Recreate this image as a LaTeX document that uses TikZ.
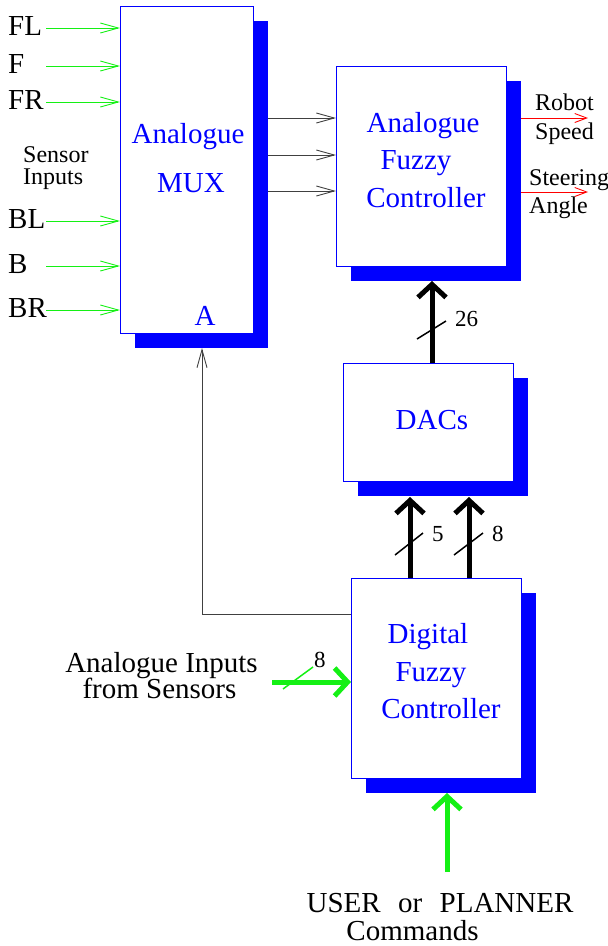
\documentclass[tikz,border=0pt]{standalone}
\usepackage{fontspec}
\setmainfont{Liberation Serif}
\usetikzlibrary{arrows.meta,shadows}
\definecolor{lgreen}{RGB}{20,240,20}
\newcommand{\bigtxt}{\fontsize{29}{33}\selectfont}
\newcommand{\midtxt}{\fontsize{24}{28}\selectfont}
\newcommand{\numtxt}{\fontsize{23}{27}\selectfont}

\begin{document}
\begin{tikzpicture}[x=1pt, y=-1pt]
        \tikzstyle{blk} = [draw=blue, fill=white, line width=1pt, inner sep=0pt, outer sep=0pt, drop shadow={shadow xshift=15pt, shadow yshift=-15pt, fill=blue, opacity=1}]
        \tikzstyle{btxt} = [blue, font=\bigtxt, anchor=base, inner sep=0pt]
        \tikzstyle{ktxt} = [font=\bigtxt, inner sep=0pt]
        \tikzstyle{stxt} = [font=\midtxt, anchor=base west, inner sep=0pt]
        \tikzstyle{ntxt} = [font=\numtxt, anchor=base west, inner sep=0pt]
        \tikzstyle{wire} = [-{Straight Barb[length=18pt, width=10pt]}, line width=0.9pt]
        \tikzstyle{bus} = [-{Straight Barb[length=13pt, width=28pt]}, line width=5pt]
        \tikzstyle{slash} = [line width=1.5pt]
        \useasboundingbox (0,0) rectangle (608,946);

        % blocks
        \node[blk, minimum width=133pt, minimum height=327pt] (mux) at (186.5,169.5) {};
        \node[blk, minimum width=170pt, minimum height=200pt] (afc) at (421,166) {};
        \node[blk, minimum width=170pt, minimum height=118pt] (dac) at (428,422) {};
        \node[blk, minimum width=170pt, minimum height=200pt] (dfc) at (436,678) {};
        \coordinate (muxsh) at ([shift={(15pt,-15pt)}]mux.south east);
        \coordinate (afcsh) at ([shift={(15pt,-15pt)}]afc.south east);
        \coordinate (dacsh) at ([shift={(15pt,-15pt)}]dac.south east);
        \coordinate (dfcsh) at ([shift={(15pt,-15pt)}]dfc.south east);

        \node[btxt] (muxa) at (188,143) {Analogue};
        \node[btxt] (muxb) at (191,192) {MUX};
        \node[btxt] (muxsel) at (205,325) {A};
        \node[btxt] (afca) at (423,132) {Analogue};
        \node[btxt] (afcb) at (416,169) {Fuzzy};
        \node[btxt] (afcc) at (426,207) {Controller};
        \node[btxt] (dact) at (432,429) {DACs};
        \node[btxt] (dfca) at (428,643) {Digital};
        \node[btxt] (dfcb) at (431,681) {Fuzzy};
        \node[btxt] (dfcc) at (441,718) {Controller};

        % sensor inputs
        \foreach \n/\y in {FL/28, F/66, FR/102, BL/221, B/266, BR/310} {
          \node[ktxt, anchor=base west] (in\n) at (8,\y+7.5) {\n};
          \coordinate (s\n) at (46,\y);
          \draw[wire, lgreen] (s\n) -- (s\n -| mux.west);
        }
        \node[stxt] (sens) at (23,162) {Sensor};
        \node[stxt] (inps) at (23,184) {Inputs};

        % mux to analogue controller
        \foreach \y in {118,155,191}
          \draw[wire, black!75] (muxsh |- 0,\y) -- (afc.west |- 0,\y);

        % outputs
        \coordinate (spd) at (588,118);
        \coordinate (ang) at (588,192);
        \draw[-{Straight Barb[length=12pt, width=9pt]}, red, line width=0.9pt] (spd -| afcsh) -- (spd);
        \draw[-{Straight Barb[length=12pt, width=9pt]}, red, line width=0.9pt] (ang -| afcsh) -- (ang);
        \node[stxt] (rob) at (535,110) {Robot};
        \node[stxt] (spdt) at (535,139) {Speed};
        \node[stxt] (ster) at (529,185) {Steering};
        \node[stxt] (angt) at (529,213) {Angle};

        % buses
        \coordinate (b26) at (432,281);
        \coordinate (b5) at (410,497);
        \coordinate (b8) at (469,497);
        \draw[bus] (b26 |- dac.north) -- (b26);
        \draw[bus] (b5 |- dfc.north) -- (b5);
        \draw[bus] (b8 |- dfc.north) -- (b8);
        \draw[slash] (b26) ++(-15,58) -- ++(29,-18);
        \draw[slash] (b5) ++(-15,58) -- ++(28,-22);
        \draw[slash] (b8) ++(-15,58) -- ++(29,-22);
        \node[ntxt] (n26) at (455,326) {26};
        \node[ntxt] (n5) at (432,541) {5};
        \node[ntxt] (n8) at (492,541) {8};

        % feedback to mux
        \coordinate (fb) at (202,614);
        \draw[wire, black!75] (fb -| dfc.west) -- (fb) -- (fb |- muxsh);

        % digital controller inputs
        \coordinate (ain) at (272,682);
        \draw[bus, lgreen] (ain) -- (ain -| dfc.west);
        \draw[slash, lgreen] (ain) ++(11,7) -- ++(30,-22);
        \node[ntxt] (n8b) at (314,667) {8};
        \node[ktxt, anchor=base] (aint) at (161.5,672) {Analogue Inputs};
        \node[ktxt, anchor=base] (fromt) at (159.5,698) {from Sensors};
        \coordinate (cmd) at (447,872);
        \draw[bus, lgreen] (cmd) -- (cmd |- dfcsh);
        \node[ktxt, anchor=base] (usr) at (440,912) {USER\hspace{0.6em}or\hspace{0.6em}PLANNER};
        \node[ktxt, anchor=base] (cmdt) at (412.5,940) {Commands};
\end{tikzpicture}
\end{document}
